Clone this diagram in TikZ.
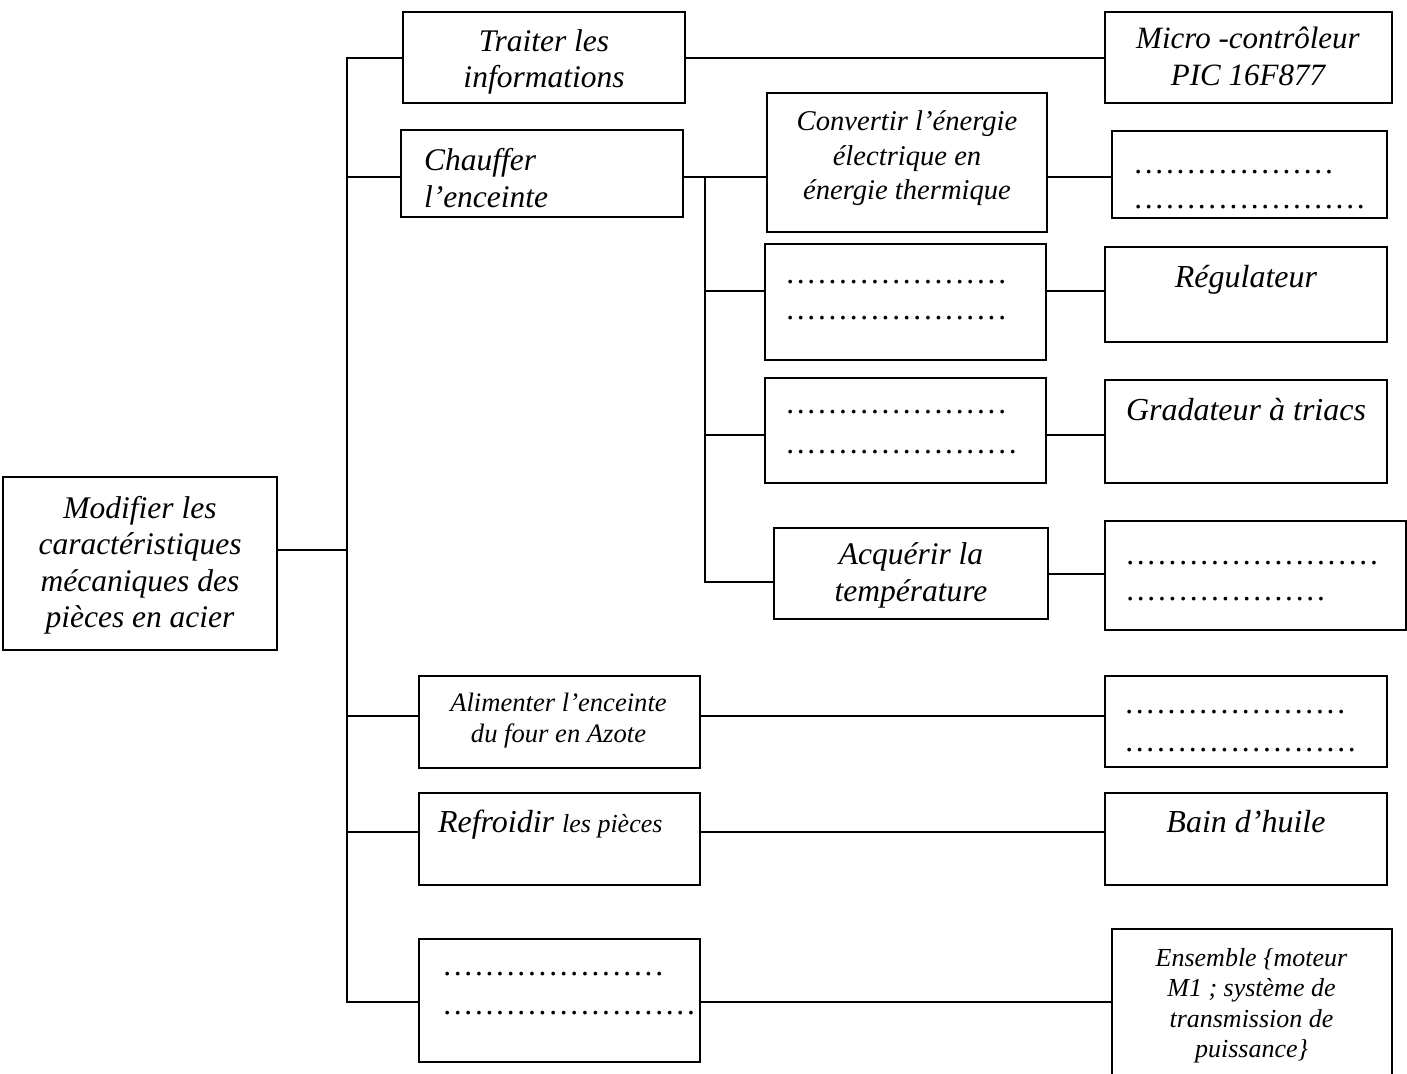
\documentclass[tikz,border=0pt]{standalone}
\usepackage{fontspec}
\setmainfont{Liberation Serif}
\usetikzlibrary{fit}
\newcommand{\fsz}[2]{\fontsize{#1}{#2}\selectfont\itshape}
\newcount\dotcnt
\newcommand{\dotrow}[1]{\dotcnt=0 \loop\makebox[10.6pt][l]{.}\advance\dotcnt by 1 \ifnum\dotcnt<#1\repeat}
\begin{document}
\begin{tikzpicture}[x=1pt,y=-1pt,
  box/.style={draw, line width=2.2pt, inner sep=0pt, outer sep=0pt},
  wire/.style={line width=1.5pt},
  txt/.style={inner sep=0pt, outer sep=0pt, anchor=north, align=center},
  ltxt/.style={inner sep=0pt, outer sep=0pt, anchor=north west, align=left}]
\useasboundingbox (0,0) rectangle (1407,1073);
% boxes
\node[box, fit={(3,477) (277,650)}] (root) {};
\node[box, fit={(403,12) (685,103)}] (trait) {};
\node[box, fit={(1105,12) (1392,103)}] (micro) {};
\node[box, fit={(401,130) (683,217)}] (chauf) {};
\node[box, fit={(767,93) (1047,232)}] (conv) {};
\node[box, fit={(1112,131) (1387,218)}] (convr) {};
\node[box, fit={(765,244) (1046,360)}] (done) {};
\node[box, fit={(1105,247) (1387,342)}] (regu) {};
\node[box, fit={(765,378) (1046,483)}] (dtwo) {};
\node[box, fit={(1105,380) (1387,483)}] (grad) {};
\node[box, fit={(774,528) (1048,619)}] (acq) {};
\node[box, fit={(1105,521) (1406,630)}] (acqr) {};
\node[box, fit={(419,676) (700,768)}] (alim) {};
\node[box, fit={(1105,676) (1387,767)}] (alimr) {};
\node[box, fit={(419,793) (700,885)}] (refr) {};
\node[box, fit={(1105,793) (1387,885)}] (bain) {};
\node[box, fit={(419,939) (700,1062)}] (last) {};
\node[box, fit={(1112,929) (1392,1085)}] (ens) {};
% junctions
\coordinate (btop) at (347,58);
\coordinate (bbot) at (347,1002);
\coordinate (broot) at (347,550);
\coordinate (bchauf) at (347,177);
\coordinate (balim) at (347,716);
\coordinate (brefr) at (347,832);
\coordinate (ctop) at (705,177);
\coordinate (cbot) at (705,582);
\coordinate (cone) at (705,291);
\coordinate (ctwo) at (705,435);
\coordinate (aone) at (1048,574);
% connectors
\draw[wire] (trait.west |- btop) -- (btop) -- (bbot) -- (last.west |- bbot);
\draw[wire] (root.east |- broot) -- (broot);
\draw[wire] (trait.east |- btop) -- (micro.west |- btop);
\draw[wire] (bchauf) -- (chauf.west |- bchauf);
\draw[wire] (chauf.east |- bchauf) -- (conv.west |- bchauf);
\draw[wire] (ctop) -- (cbot) -- (acq.west |- cbot);
\draw[wire] (conv.east |- ctop) -- (convr.west |- ctop);
\draw[wire] (cone) -- (done.west |- cone);
\draw[wire] (done.east |- cone) -- (regu.west |- cone);
\draw[wire] (ctwo) -- (dtwo.west |- ctwo);
\draw[wire] (dtwo.east |- ctwo) -- (grad.west |- ctwo);
\draw[wire] (acq.east |- aone) -- (acqr.west |- aone);
\draw[wire] (balim) -- (alim.west |- balim);
\draw[wire] (alim.east |- balim) -- (alimr.west |- balim);
\draw[wire] (brefr) -- (refr.west |- brefr);
\draw[wire] (refr.east |- brefr) -- (bain.west |- brefr);
\draw[wire] (last.east |- bbot) -- (ens.west |- bbot);
% texts
\node[txt, font=\fsz{31.5}{36.5}] (troot) at (140,492.5) {\strut Modifier les\\\strut caractéristiques\\\strut mécaniques des\\\strut pièces en acier};
\node[txt, font=\fsz{31.5}{36}] (ttrait) at (544,26) {\strut Traiter les\\\strut informations};
\node[txt, font=\fsz{31}{36.5}] (tmicro) at (1248,23) {\strut Micro -contrôleur\\\strut PIC 16F877};
\node[ltxt, font=\fsz{31.5}{36.5}] (tchauf) at (424,145) {\strut Chauffer\\\strut l’enceinte};
\node[txt, font=\fsz{28.6}{34.5}] (tconv) at (907,106.5) {\strut Convertir l’énergie\\\strut électrique en\\\strut énergie thermique};
\node[ltxt, font=\fsz{31.5}{35}] (tconvr) at (1135,148.5) {\strut\dotrow{19}\\\strut\dotrow{22}};
\node[ltxt, font=\fsz{31.5}{36}] (tdone) at (787,257.8) {\strut\dotrow{21}\\\strut\dotrow{21}};
\node[txt, font=\fsz{32}{36}] (tregu) at (1246,261.8) {\strut Régulateur};
\node[ltxt, font=\fsz{31.5}{40}] (tdtwo) at (787,385) {\strut\dotrow{21}\\\strut\dotrow{22}};
\node[txt, font=\fsz{32}{36}] (tgrad) at (1246,394.8) {\strut Gradateur à triacs};
\node[txt, font=\fsz{31.5}{37}] (tacq) at (911,539) {\strut Acquérir la\\\strut température};
\node[ltxt, font=\fsz{31.5}{36}] (tacqr) at (1127,538.8) {\strut\dotrow{24}\\\strut\dotrow{19}};
\node[txt, font=\fsz{26.6}{31.5}] (talim) at (558.5,689) {\strut Alimenter l’enceinte\\\strut du four en Azote};
\node[ltxt, font=\fsz{31.5}{38}] (talimr) at (1126,686.4) {\strut\dotrow{21}\\\strut\dotrow{22}};
\node[ltxt, font=\fsz{32}{36}] (trefr) at (438,807.5) {\strut Refroidir {\fontsize{26}{36}\selectfont les pièces}};
\node[txt, font=\fsz{32}{36}] (tbain) at (1246,806.8) {\strut Bain d’huile};
\node[ltxt, font=\fsz{31.5}{39}] (tlast) at (444,948) {\strut\dotrow{21}\\\strut\dotrow{24}};
\node[txt, font=\fsz{26}{30.5}] (tens) at (1251.5,945) {\strut Ensemble \{moteur\\\strut M1 ; système de\\\strut transmission de\\\strut puissance\}};
\end{tikzpicture}
\end{document}
